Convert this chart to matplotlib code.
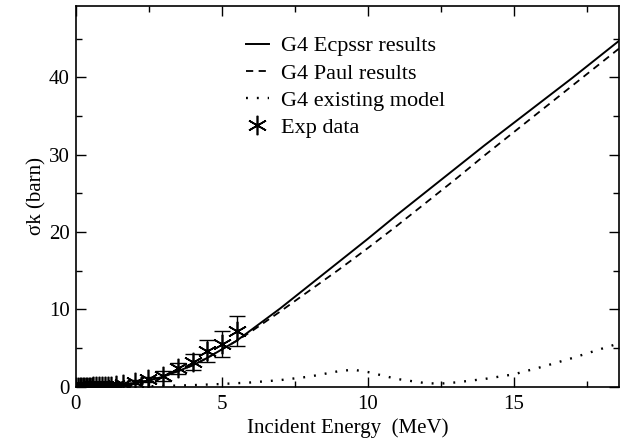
import numpy as np
import matplotlib
matplotlib.use('Agg')
import matplotlib.pyplot as plt

plt.rcParams['font.family'] = ['Liberation Serif', 'DejaVu Serif']

# ---- G4 Ecpssr 计算结果 ----
e_ecpssr = [0, 0.5, 1, 1.5, 2, 2.5, 3, 3.5, 4, 4.5, 5, 5.5, 6, 7, 8, 9,
            10, 11, 12, 13, 14, 15, 16, 17, 18, 18.6]
s_ecpssr = [0, 0.02, 0.1, 0.25, 0.45, 0.8, 1.3, 2.0, 2.75, 3.7, 4.8, 5.9,
            7.3, 10.1, 13.1, 16.1, 19.1, 22.2, 25.2, 28.2, 31.2, 34.1,
            37.0, 39.9, 42.9, 44.7]

# ---- G4 Paul 计算结果 ----
e_paul = [0, 0.5, 1, 1.5, 2, 2.5, 3, 3.5, 4, 4.5, 5, 5.5, 6, 7, 8, 9,
          10, 11, 12, 13, 14, 15, 16, 17, 18, 18.6]
s_paul = [0, 0.02, 0.1, 0.25, 0.45, 0.8, 1.3, 2.0, 2.75, 3.7, 4.8, 5.9,
          7.1, 9.7, 12.4, 15.1, 17.9, 20.8, 23.8, 26.8, 29.9, 32.9,
          35.9, 38.9, 41.9, 43.7]

# ---- G4 现有模型 ----
e_old = [0, 1, 2, 2.5, 3, 4, 5, 6, 7, 8, 9, 9.5, 10, 11, 12, 12.5, 13,
         14, 15, 16, 17, 18, 18.6]
s_old = [0, 0, 0, 0.05, 0.1, 0.2, 0.35, 0.55, 0.85, 1.3, 2.0, 2.2, 1.9,
         1.0, 0.45, 0.4, 0.55, 1.0, 1.6, 2.6, 3.7, 4.9, 5.6]

# ---- 实验数据 ----
e_exp = [0.1, 0.15, 0.2, 0.25, 0.3, 0.35, 0.4, 0.45, 0.5, 0.55, 0.6, 0.7,
         0.8, 0.9, 1.0, 1.1, 1.2, 1.4, 1.64, 2.04, 2.49, 3.0, 3.52, 4.01,
         4.51, 5.0, 5.54]
s_exp = [0.0, 0.0, 0.0, 0.0, 0.0, 0.01, 0.01, 0.01, 0.02, 0.02, 0.03,
         0.04, 0.06, 0.08, 0.1, 0.12, 0.15, 0.22, 0.35, 0.65, 0.95, 1.4,
         2.4, 3.2, 4.65, 5.5, 7.2]
err_exp = [0.05, 0.05, 0.05, 0.05, 0.05, 0.05, 0.05, 0.05, 0.05, 0.05,
           0.05, 0.05, 0.05, 0.05, 0.05, 0.06, 0.08, 0.1, 0.15, 0.25, 0.35,
           0.6, 0.7, 1.0, 1.4, 1.7, 2.0]

fig = plt.figure(figsize=(6.24, 4.45), dpi=100)
ax = fig.add_axes([0.121, 0.131, 0.871, 0.8555])

ax.plot(e_ecpssr, s_ecpssr, color='black', lw=1.4, label='G4 Ecpssr results')
ax.plot(e_paul, s_paul, color='black', lw=1.3, dashes=(4, 3),
        label='G4 Paul results')
ax.plot(e_old, s_old, color='black', lw=1.7, linestyle=(0, (0.8, 3.8)),
        label='G4 existing model')
ax.errorbar(e_exp, s_exp, yerr=err_exp, fmt='none', ecolor='black',
            elinewidth=1.0, capsize=6, capthick=1.0)
ax.plot(e_exp, s_exp, linestyle='none', marker=(6, 2, 0), markersize=14,
        markeredgecolor='black', markeredgewidth=1.2, color='black',
        label='Exp data')

ax.set_xlim(0, 18.6)
ax.set_ylim(0, 49.2)
ax.set_xticks([0, 5, 10, 15])
ax.set_xticks([2.5, 7.5, 12.5, 17.5], minor=True)
ax.set_yticks([0, 10, 20, 30, 40])
ax.set_yticks([5, 15, 25, 35, 45], minor=True)
ax.tick_params(which='both', direction='in', top=True, right=True,
               labelsize=15)
ax.tick_params(axis='x', pad=6)
ax.tick_params(axis='y', pad=4)
ax.tick_params(which='major', length=7.5, width=1)
ax.tick_params(which='minor', length=4, width=1)
for sp in ax.spines.values():
    sp.set_linewidth(1.2)

ax.set_xlabel('Incident Energy  (MeV)', fontsize=15, labelpad=3)
ax.set_ylabel('σk (barn)', fontsize=15, labelpad=2)

ax.legend(loc='upper left', bbox_to_anchor=(0.298, 0.945), frameon=False,
          fontsize=16, handlelength=1.0, handletextpad=0.55,
          labelspacing=0.3, borderaxespad=0)

fig.savefig('out.png', dpi=100)
